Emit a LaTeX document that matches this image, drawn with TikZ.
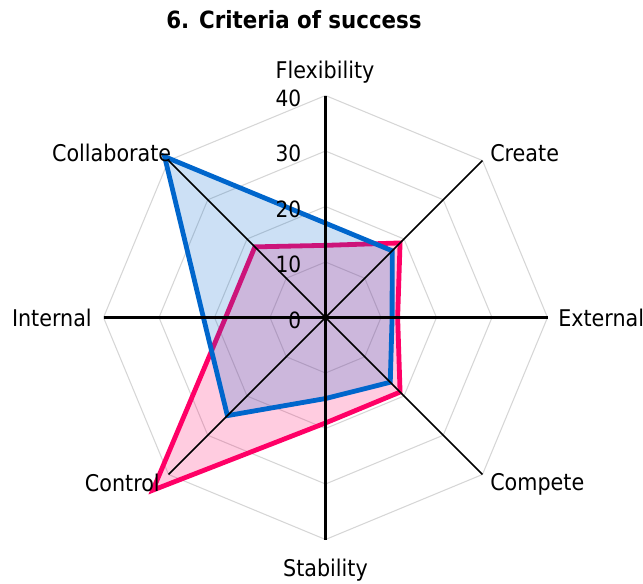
\documentclass[tikz,border=0pt]{standalone}
\usepackage{fontspec}
\setmainfont{DejaVu Sans Condensed}
\definecolor{serblue}{RGB}{0,102,204}
\definecolor{serpink}{RGB}{255,0,102}
\definecolor{gridgray}{RGB}{214,214,214}
\tikzset{
  gridline/.style={draw=gridgray, line width=0.8pt},
  mainaxis/.style={draw=black, line width=1.6pt},
  diagaxis/.style={draw=black, line width=1.1pt},
  pinkser/.style={draw=serpink, line width=3.6pt, fill=serpink, fill opacity=0.2, draw opacity=1},
  blueser/.style={draw=serblue, line width=3.6pt, fill=serblue, fill opacity=0.2, draw opacity=1},
  catlabel/.style={inner sep=0pt, font=\fontsize{17.25pt}{20pt}\selectfont},
  ticklabel/.style={inner sep=0pt, font=\fontsize{16.8pt}{19pt}\selectfont},
  titlelabel/.style={inner sep=0pt, font=\fontsize{17.8pt}{20pt}\selectfont\bfseries},
}
\begin{document}
\begin{tikzpicture}[x=0.75pt,y=0.75pt]
\useasboundingbox (0,0) rectangle (643,-583);
\pgfmathsetmacro{\s}{5.55}
\begin{scope}[shift={(325.5,-317.5)}]
  % grid rings
  \foreach \r in {10,20,30,40}{
    \pgfmathsetmacro{\rr}{\r*\s}
    \draw[gridline] (0:\rr) -- (45:\rr) -- (90:\rr) -- (135:\rr) -- (180:\rr) -- (225:\rr) -- (270:\rr) -- (315:\rr) -- cycle;
  }
  % series
  \draw[pinkser] (90:13*\s) -- (45:19*\s) -- (0:13*\s) -- (-45:19*\s) -- (-90:19*\s) -- (-135:44*\s) -- (180:18*\s) -- (135:18*\s) -- cycle;
  \draw[blueser] (90:17*\s) -- (45:17*\s) -- (0:12*\s) -- (-45:16.5*\s) -- (-90:14.6*\s) -- (-135:25*\s) -- (180:22*\s) -- (135:41*\s) -- cycle;
  % axes
  \node[circle, fill=black, inner sep=0pt, minimum size=4pt] (ctr) at (0,0) {};
  \coordinate (aFlex) at (90:40*\s);
  \coordinate (aCreate) at (45:40*\s);
  \coordinate (aExt) at (0:40*\s);
  \coordinate (aComp) at (-45:40*\s);
  \coordinate (aStab) at (-90:40*\s);
  \coordinate (aCtrl) at (-135:40*\s);
  \coordinate (aInt) at (180:40*\s);
  \coordinate (aColl) at (135:40*\s);
  \draw[mainaxis] (ctr.center) -- (aFlex);
  \draw[mainaxis] (ctr.center) -- (aStab);
  \draw[mainaxis] (ctr.center) -- (aExt);
  \draw[mainaxis] (ctr.center) -- (aInt);
  \draw[diagaxis] (ctr.center) -- (aCreate);
  \draw[diagaxis] (ctr.center) -- (aComp);
  \draw[diagaxis] (ctr.center) -- (aCtrl);
  \draw[diagaxis] (ctr.center) -- (aColl);
\end{scope}
% tick labels
\node[ticklabel, anchor=base east] (t0)  at (301.5,-328) {0};
\node[ticklabel, anchor=base east] (t10) at (301.5,-272.5) {10};
\node[ticklabel, anchor=base east] (t20) at (301.5,-217) {20};
\node[ticklabel, anchor=base east] (t30) at (301.5,-161.5) {30};
\node[ticklabel, anchor=base east] (t40) at (301.5,-106) {40};
% category labels
\node[catlabel, anchor=base] (lFlex) at (325,-78.5) {Flexibility};
\node[catlabel, anchor=base west] (lCreate) at (490,-161.5) {Create};
\node[catlabel, anchor=base west] (lExt) at (558,-326) {External};
\node[catlabel, anchor=base west] (lComp) at (490,-490) {Compete};
\node[catlabel, anchor=base] (lStab) at (325.5,-576.5) {Stability};
\node[catlabel, anchor=base east] (lCtrl) at (160,-491.5) {Control};
\node[catlabel, anchor=base east] (lInt) at (92,-326.5) {Internal};
\node[catlabel, anchor=base east] (lColl) at (171.5,-161) {Collaborate};
% title
\node[titlelabel, anchor=base] (title) at (294,-28.3) {6. Criteria of success};
\end{tikzpicture}
\end{document}
